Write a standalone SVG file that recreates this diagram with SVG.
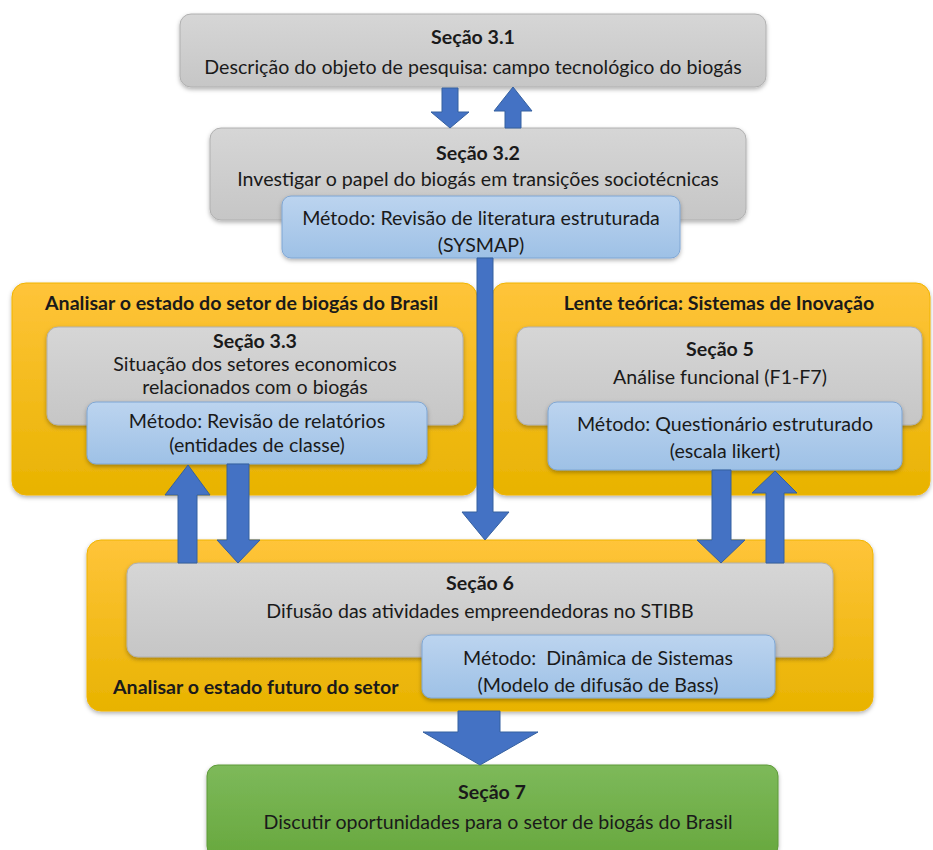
<svg xmlns="http://www.w3.org/2000/svg" width="933" height="850" viewBox="0 0 933 850">
  <defs>
    <linearGradient id="gGray" x1="0" y1="0" x2="0" y2="1">
      <stop offset="0" stop-color="#d6d6d6"/>
      <stop offset="1" stop-color="#c6c6c6"/>
    </linearGradient>
    <linearGradient id="gBlue" x1="0" y1="0" x2="0" y2="1">
      <stop offset="0" stop-color="#bcd4ef"/>
      <stop offset="1" stop-color="#9ec1e6"/>
    </linearGradient>
    <linearGradient id="gOrange" x1="0" y1="0" x2="0" y2="1">
      <stop offset="0" stop-color="#ffc43a"/>
      <stop offset="1" stop-color="#e8b300"/>
    </linearGradient>
    <linearGradient id="gGreen" x1="0" y1="0" x2="0" y2="1">
      <stop offset="0" stop-color="#7db95a"/>
      <stop offset="1" stop-color="#68a83e"/>
    </linearGradient>
    <filter id="shadow" x="-5%" y="-10%" width="110%" height="130%">
      <feDropShadow dx="0" dy="2" stdDeviation="2" flood-color="#000" flood-opacity="0.3"/>
    </filter>
  </defs>
  <style>
    text { font-family: Lato, "Open Sans", "Liberation Sans", sans-serif; font-size: 19.6px; fill: #1a1a1a; }
    .c { text-anchor: middle; }
    .b { font-weight: bold; }
    .gray { fill: url(#gGray); stroke: #b0b0b0; stroke-width: 1; filter: url(#shadow); }
    .blue { fill: url(#gBlue); stroke: #7ea6d4; stroke-width: 1; filter: url(#shadow); }
    .orange { fill: url(#gOrange); stroke: #f0b400; stroke-width: 1; filter: url(#shadow); }
    .green { fill: url(#gGreen); stroke: #5e9a38; stroke-width: 1; filter: url(#shadow); }
    .arrow { fill: #4472c4; stroke: #35609f; stroke-width: 1; }
  </style>
  <rect width="933" height="850" fill="#ffffff"/>

  <!-- Section 3.1 -->
  <g id="secao31">
    <rect class="gray" x="180" y="14" width="586" height="73" rx="11"/>
    <text class="c b" x="473" y="44">Seção 3.1</text>
    <text class="c" x="473" y="74">Descrição do objeto de pesquisa: campo tecnológico do biogás</text>
  </g>

  <!-- Section 3.2 with its method -->
  <g id="secao32">
    <rect class="gray" x="210" y="128" width="536" height="92" rx="11"/>
    <text class="c b" x="478" y="160">Seção 3.2</text>
    <text class="c" x="478" y="186">Investigar o papel do biogás em transições sociotécnicas</text>
  </g>
  <g id="metodo32">
    <rect class="blue" x="282" y="196" width="398" height="62" rx="9"/>
    <text class="c" x="481" y="225">Método: Revisão de literatura estruturada</text>
    <text class="c" x="481" y="252">(SYSMAP)</text>
  </g>

  <!-- Current state of the sector -->
  <g id="estado-atual">
    <rect class="orange" x="12" y="283" width="465" height="212" rx="14"/>
    <text class="b" x="45" y="310">Analisar o estado do setor de biogás do Brasil</text>
  </g>
  <g id="secao33">
    <rect class="gray" x="47" y="327" width="416" height="98" rx="11"/>
    <text class="c b" x="255" y="348">Seção 3.3</text>
    <text class="c" x="255" y="371">Situação dos setores economicos</text>
    <text class="c" x="255" y="394">relacionados com o biogás</text>
  </g>
  <g id="metodo33">
    <rect class="blue" x="87" y="402" width="340" height="62" rx="9"/>
    <text class="c" x="257" y="428">Método: Revisão de relatórios</text>
    <text class="c" x="257" y="452">(entidades de classe)</text>
  </g>

  <!-- Theoretical lens -->
  <g id="lente-teorica">
    <rect class="orange" x="492" y="283" width="438" height="212" rx="14"/>
    <text class="c b" x="719" y="310">Lente teórica: Sistemas de Inovação</text>
  </g>
  <g id="secao5">
    <rect class="gray" x="517" y="327" width="405" height="98" rx="11"/>
    <text class="c b" x="720" y="356">Seção 5</text>
    <text class="c" x="720" y="384">Análise funcional (F1-F7)</text>
  </g>
  <g id="metodo5">
    <rect class="blue" x="548" y="402" width="354" height="68" rx="9"/>
    <text class="c" x="725" y="431">Método: Questionário estruturado</text>
    <text class="c" x="725" y="458">(escala likert)</text>
  </g>

  <!-- Future state of the sector -->
  <g id="estado-futuro">
    <rect class="orange" x="87" y="540" width="786" height="171" rx="14"/>
    <text class="b" x="113" y="694">Analisar o estado futuro do setor</text>
  </g>
  <g id="secao6">
    <rect class="gray" x="127" y="563" width="706" height="94" rx="11"/>
    <text class="c b" x="480" y="590">Seção 6</text>
    <text class="c" x="480" y="618">Difusão das atividades empreendedoras no STIBB</text>
  </g>
  <g id="metodo6">
    <rect class="blue" x="422" y="635" width="353" height="63" rx="9"/>
    <text class="c" x="598" y="665" xml:space="preserve">Método:  Dinâmica de Sistemas</text>
    <text class="c" x="598" y="692">(Modelo de difusão de Bass)</text>
  </g>

  <!-- Section 7 -->
  <g id="secao7">
    <rect class="green" x="207" y="765" width="571" height="92" rx="11"/>
    <text class="c b" x="492" y="799">Seção 7</text>
    <text class="c" x="498" y="829">Discutir oportunidades para o setor de biogás do Brasil</text>
  </g>

  <!-- Block arrows -->
  <g id="connectors">
    <polygon class="arrow" points="442,88 458,88 458,112 469,112 450,128 431,112 442,112"/>
    <polygon class="arrow" points="505,128 521,128 521,111 532,111 513,87 494,111 505,111"/>
    <polygon class="arrow" points="477,258 493,258 493,512 509,512 485,540 462,512 477,512"/>
    <polygon class="arrow" points="178,563 197,563 197,495 210,495 188,465 165,495 178,495"/>
    <polygon class="arrow" points="227,464 249,464 249,540 260,540 238,563 217,540 227,540"/>
    <polygon class="arrow" points="712,470 731,470 731,540 745,540 721,563 697,540 712,540"/>
    <polygon class="arrow" points="766,563 784,563 784,493 797,493 775,471 752,493 766,493"/>
    <polygon class="arrow" points="458,711 500,711 500,732 538,732 480,765 423,732 458,732"/>
  </g>
</svg>
